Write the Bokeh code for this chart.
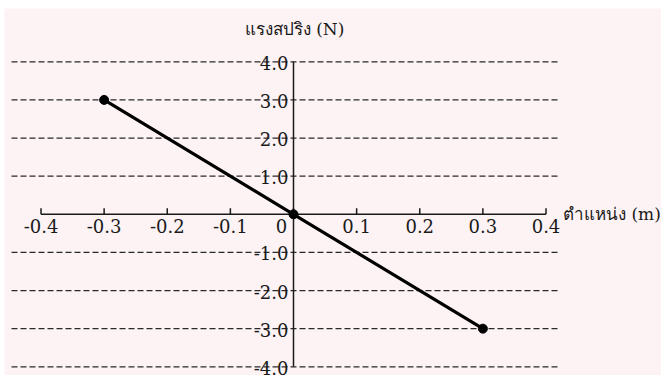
from bokeh.plotting import figure
from bokeh.models import Range1d
from bokeh.core.properties import value
from bokeh.embed import file_html
from bokeh.resources import INLINE

# ---- data ----
position = [-0.3, 0.0, 0.3]          # m
force = [3.0, 0.0, -3.0]             # N
x_ticks = [-0.4, -0.3, -0.2, -0.1, 0.0, 0.1, 0.2, 0.3, 0.4]
x_tick_labels = ["-0.4", "-0.3", "-0.2", "-0.1", "0", "0.1", "0.2", "0.3", "0.4"]
y_ticks = [4.0, 3.0, 2.0, 1.0, -1.0, -2.0, -3.0, -4.0]
y_tick_labels = ["4.0", "3.0", "2.0", "1.0", "-1.0", "-2.0", "-3.0", "-4.0"]
x_title = "ตำแหน่ง (m)"
y_title = "แรงสปริง (N)"

# ---- layout constants ----
W, H = 661, 375
LEFT, TOP = 4, 8                 # white strip at the top / left
FW, FH = W - LEFT, H - TOP       # frame size
PX_X = 631.25     # pixels per metre
PX_Y = 38.125     # pixels per newton
X0_PX = 293.0 - LEFT   # x=0 position inside frame
Y0_PX = 213.8 - TOP    # y=0 position inside frame (from top)

x_start = -X0_PX / PX_X
x_end = (FW - X0_PX) / PX_X
y_end = Y0_PX / PX_Y
y_start = y_end - FH / PX_Y

BG = "#fdf3f5"
FONT = "DejaVu Serif"
INK = "#1a1a1a"

p = figure(width=W, height=H, output_backend="svg", toolbar_location=None,
           x_range=Range1d(x_start, x_end), y_range=Range1d(y_start, y_end),
           min_border=0, min_border_left=LEFT, min_border_right=0,
           min_border_top=TOP, min_border_bottom=0,
           background_fill_color=BG, border_fill_color="white",
           outline_line_color=None)
p.axis.visible = False
p.grid.visible = False

# dashed horizontal grid lines
gx0 = (11 - LEFT - X0_PX) / PX_X
gx1 = (558 - LEFT - X0_PX) / PX_X
p.segment(x0=[gx0] * len(y_ticks), x1=[gx1] * len(y_ticks), y0=y_ticks, y1=y_ticks,
          line_color="#2a2a2a", line_width=1.3, line_dash="6 3")

# y axis line
p.segment(x0=[0], x1=[0], y0=[min(y_ticks)], y1=[max(y_ticks)],
          line_color=INK, line_width=1.5)
# x axis line
p.segment(x0=[min(x_ticks)], x1=[max(x_ticks)], y0=[0], y1=[0],
          line_color=INK, line_width=1.5)
# x ticks pointing up
tick_len = 6 / PX_Y
p.segment(x0=x_ticks, x1=x_ticks, y0=[0] * len(x_ticks), y1=[tick_len] * len(x_ticks),
          line_color=INK, line_width=1.5)

# x tick labels
x_off = [-12 if t == 0 else 0 for t in x_ticks]
p.text(x=x_ticks, y=[0] * len(x_ticks), text=x_tick_labels, x_offset=x_off, y_offset=5,
       text_align="center", text_baseline="top", text_font=value(FONT),
       text_font_size="18px", text_color=INK)
# y tick labels
p.text(x=[0] * len(y_ticks), y=y_ticks, text=y_tick_labels, x_offset=-5, y_offset=1,
       text_align="right", text_baseline="middle", text_font=value(FONT),
       text_font_size="18px", text_color=INK)

# data line + points
p.line(position, force, line_color="black", line_width=3.2)
p.scatter(position, force, size=9, color="black")

# axis titles
p.text(x=[0], y=[max(y_ticks)], text=[y_title], x_offset=1, y_offset=-33,
       text_align="center", text_baseline="middle", text_font=value(FONT),
       text_font_size="17px", text_color=INK)
p.text(x=[max(x_ticks)], y=[0], text=[x_title], x_offset=17, y_offset=0,
       text_align="left", text_baseline="middle", text_font=value(FONT),
       text_font_size="17px", text_color=INK)

open("out.html", "w").write(file_html(p, INLINE))
